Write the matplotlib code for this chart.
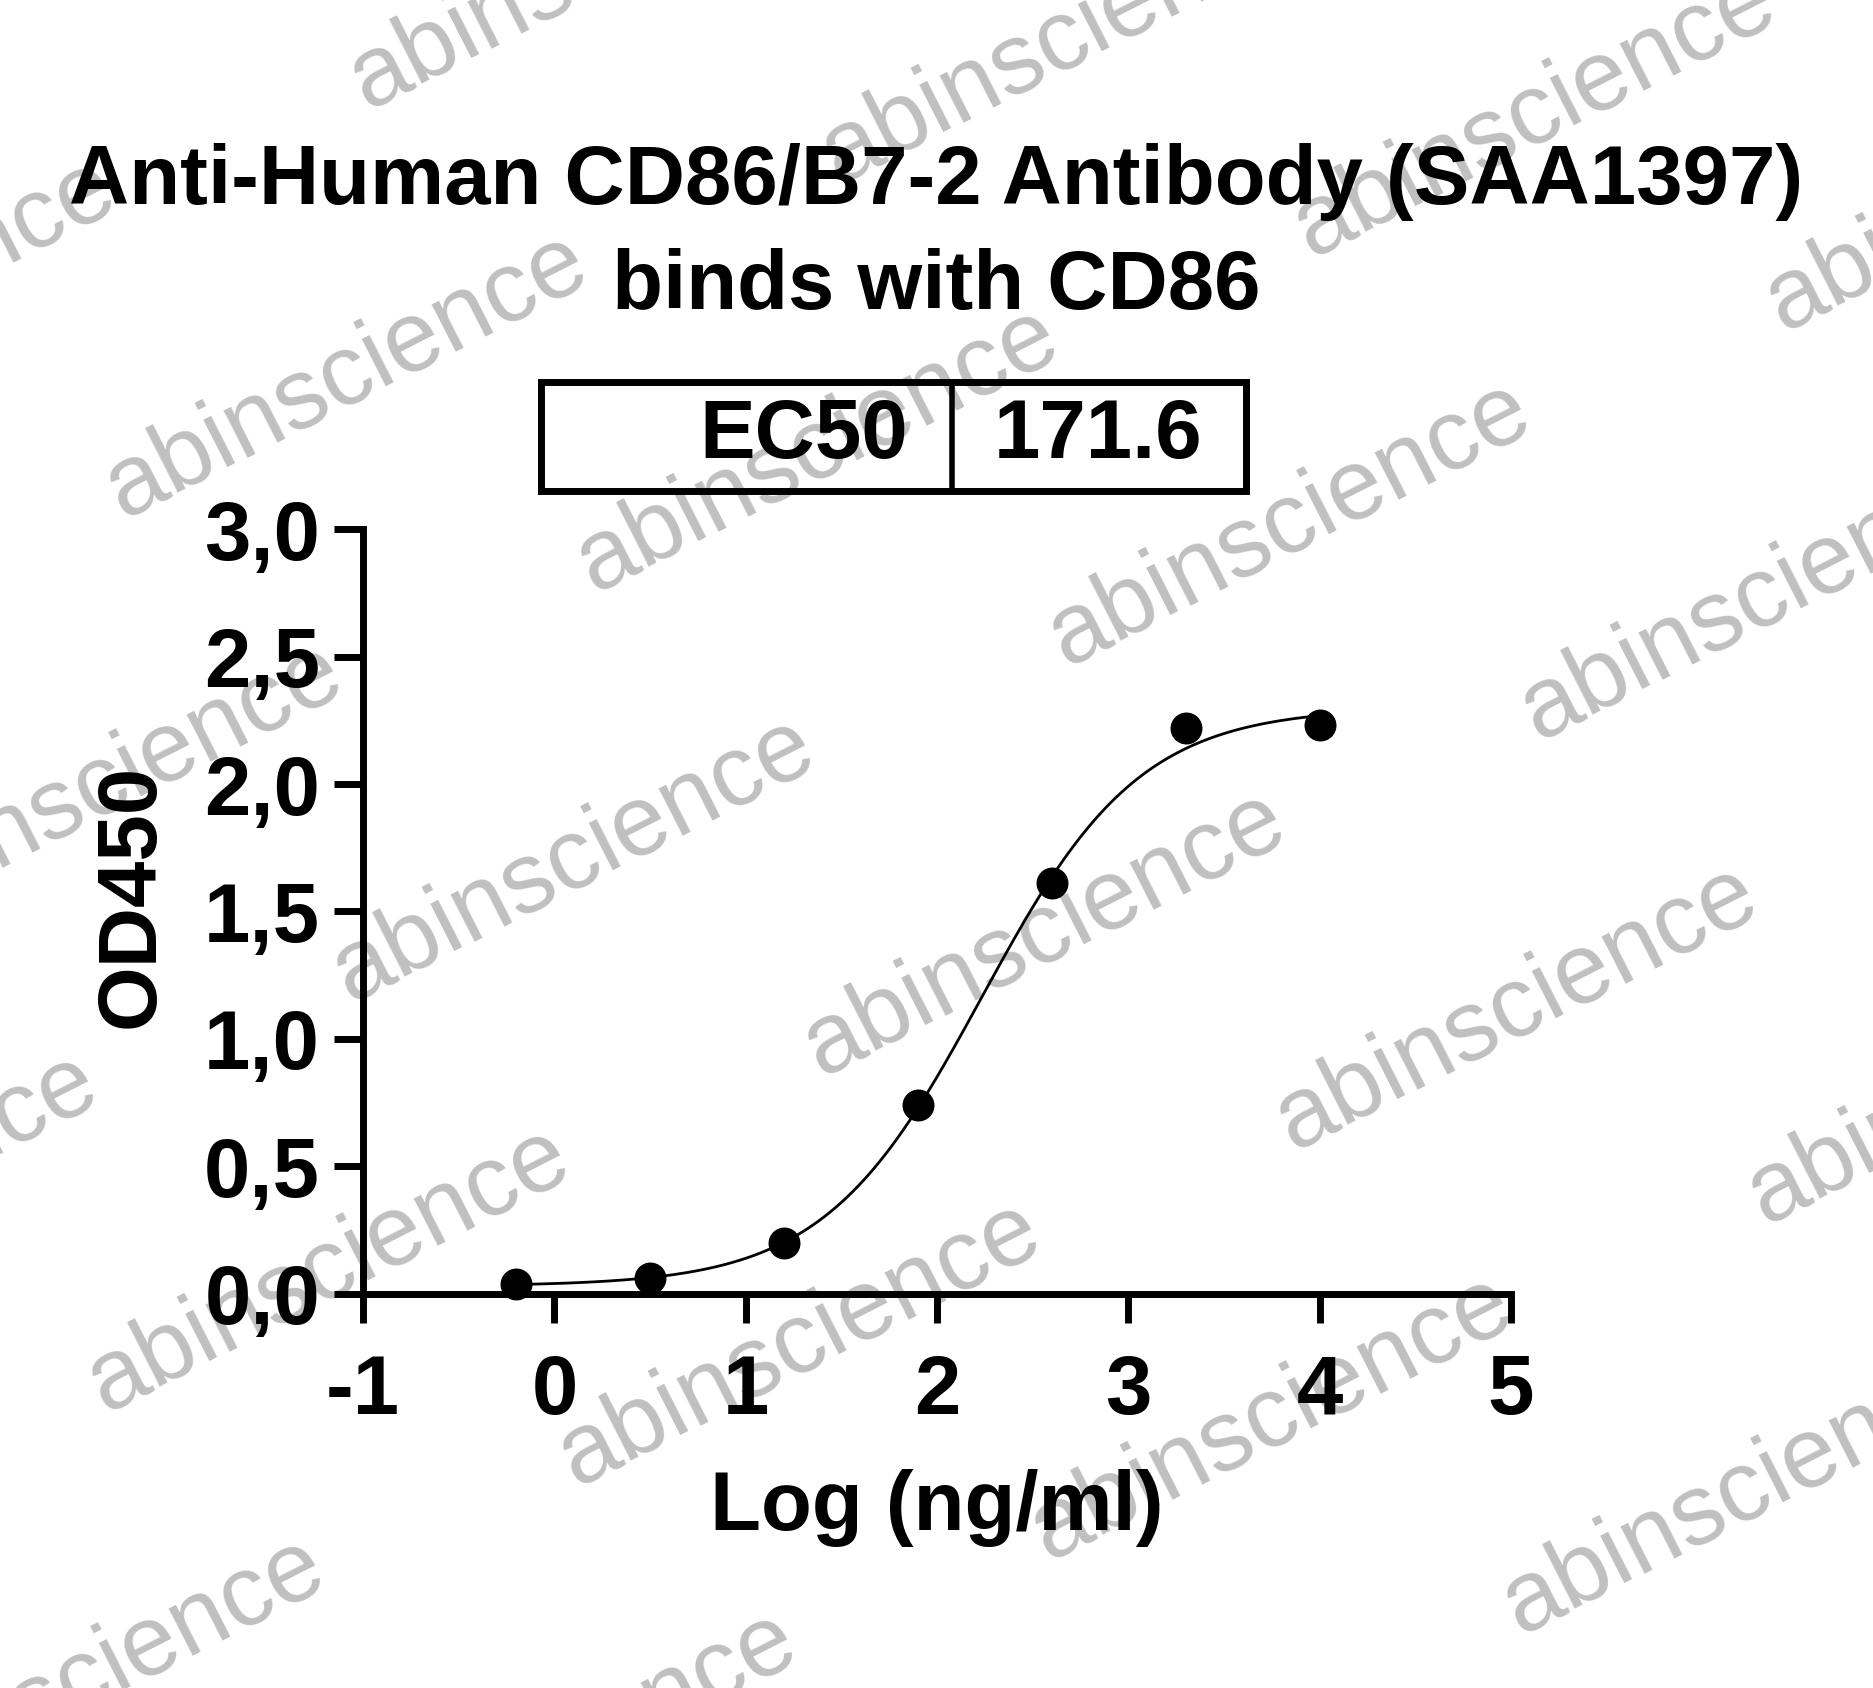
import matplotlib.pyplot as plt
import numpy as np

plt.rcParams["axes.unicode_minus"] = False

# data: log10 concentration (ng/ml) vs OD450
logConc = [-0.2, 0.5, 1.2, 1.9, 2.6, 3.3, 4.0]
od450 = [0.04, 0.06, 0.20, 0.74, 1.61, 2.22, 2.23]

# 4PL fit (EC50 reported in the box)
EC50 = 171.6
bottom, top, hill = 0.03, 2.30, 1.05

xTicks = [-1, 0, 1, 2, 3, 4, 5]
yTicks = [0.0, 0.5, 1.0, 1.5, 2.0, 2.5, 3.0]
yTickLabels = ["0,0", "0,5", "1,0", "1,5", "2,0", "2,5", "3,0"]

FONT = "Liberation Sans"
W, H = 1568.0, 1413.0  # layout measured on a 1568x1413 copy of the picture


def fx(x):
    return x / W


def fy(y):
    return 1 - y / H


fig = plt.figure(figsize=(18.73, 16.88), dpi=100)
ax = fig.add_axes([fx(304), fy(1083), fx(1265) - fx(304), fy(443) - fy(1083)])
ax.patch.set_alpha(0)  # let the watermark show through

xFit = np.linspace(min(logConc), max(logConc), 300)
yFit = bottom + (top - bottom) / (1 + 10 ** ((np.log10(EC50) - xFit) * hill))
ax.plot(xFit, yFit, color="black", lw=2.0, zorder=2)
ax.plot(logConc, od450, "o", color="black", ms=22, zorder=3, clip_on=False)

ax.set_xlim(-1, 5)
ax.set_ylim(0, 3)
ax.set_xticks(xTicks)
ax.set_yticks(yTicks)
ax.set_yticklabels(yTickLabels)
for s in ["top", "right"]:
    ax.spines[s].set_visible(False)
for s in ["left", "bottom"]:
    ax.spines[s].set_linewidth(5)
ax.tick_params(direction="out", length=21, width=5, labelsize=60)
ax.tick_params(axis="x", pad=22)
ax.tick_params(axis="y", pad=10)
for lab in ax.get_xticklabels() + ax.get_yticklabels():
    lab.set_fontfamily(FONT)
    lab.set_fontweight("bold")

# titles and axis labels
fig.text(0.5, fy(152), "Anti-Human CD86/B7-2 Antibody (SAA1397)", ha="center", va="center",
         fontsize=60, fontweight="bold", family=FONT)
fig.text(0.5, fy(240), "binds with CD86", ha="center", va="center",
         fontsize=60, fontweight="bold", family=FONT)
fig.text(fx(784), fy(1262), "Log (ng/ml)", ha="center", va="center",
         fontsize=60, fontweight="bold", family=FONT)
fig.text(fx(110), fy(750), "OD450", ha="center", va="center", rotation=90,
         fontsize=60, fontweight="bold", family=FONT)

# EC50 table
box = plt.Rectangle((fx(453), fy(411)), fx(1043) - fx(453), fy(320) - fy(411),
                    transform=fig.transFigure, fill=False, lw=5, color="black")
fig.add_artist(box)
fig.add_artist(plt.Line2D([fx(797), fx(797)], [fy(411), fy(320)],
                          transform=fig.transFigure, lw=4, color="black"))
fig.text(fx(760), fy(365), "EC50", ha="right", va="center", fontsize=60,
         fontweight="bold", family=FONT)
fig.text(fx(919), fy(365), "171.6", ha="center", va="center", fontsize=60,
         fontweight="bold", family=FONT)

# watermark grid, behind everything
for j in range(-1, 4):
    for i in range(-3, 5):
        cx = 290 + 395 * i + 190 * j
        cy = 315 + 62 * i + 405 * j
        if -300 < cx < W + 300 and -200 < cy < H + 200:
            fig.text(fx(cx), fy(cy), "abinscience", ha="center", va="center",
                     rotation=27, fontsize=72, color="#c0c0c0",
                     family=FONT, zorder=-1)

plt.savefig("out.png", dpi=100)
